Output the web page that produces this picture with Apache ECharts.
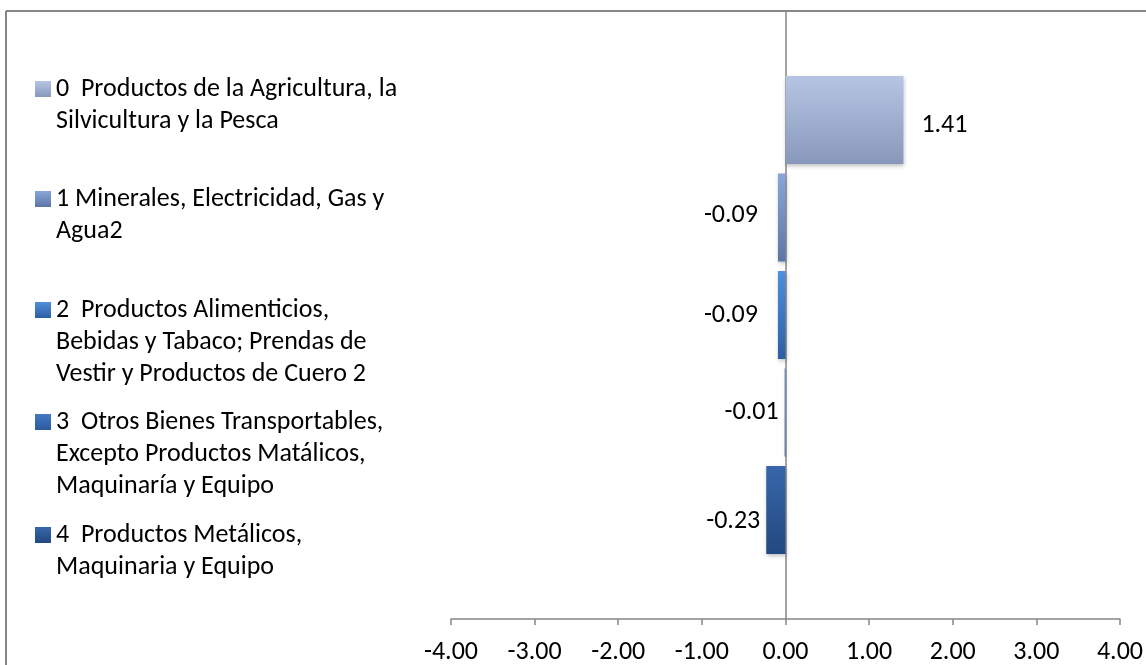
<!DOCTYPE html>
<html>
<head>
<meta charset="utf-8">
<script src="https://cdn.jsdelivr.net/npm/echarts@6/dist/echarts.min.js"></script>
<style>
  html, body { margin: 0; padding: 0; background: #fff; }
  #chart { width: 1146px; height: 665px; }
</style>
</head>
<body>
<div id="chart"></div>
<script>
// datos
const categories = [""];
const seriesNames = [
  "0  Productos de la Agricultura, la\nSilvicultura y la Pesca",
  "1 Minerales, Electricidad, Gas y\nAgua2",
  "2  Productos Alimenticios,\nBebidas y Tabaco; Prendas de\nVestir y Productos de Cuero 2",
  "3  Otros Bienes Transportables,\nExcepto Productos Matálicos,\nMaquinaría y Equipo",
  "4  Productos Metálicos,\nMaquinaria y Equipo"
];
const values = [1.41, -0.09, -0.09, -0.01, -0.23];
const xTicks = [-4, -3, -2, -1, 0, 1, 2, 3, 4];

// estilos
const gradients = [
  ["#b6c5e3", "#8898bb"],
  ["#8aa6d8", "#5b76a6"],
  ["#4f8fdc", "#2c5fa3"],
  ["#4479c4", "#2c5a9b"],
  ["#3767aa", "#23497f"]
];
const labelGap = [18, 20, 20, 6, 6];
const labelShift = [[0, 6], [0, -2], [0, 0], [0, 0], [0, 11]];
const legendCenters = [89, 199, 310, 422, 535];
const font = "Carlito, Lato, 'Open Sans', sans-serif";
const fs = 26;
const lh = 32;
const gray = "#868686";

const chart = echarts.init(document.getElementById("chart"));

const series = seriesNames.map((name, i) => ({
  name: name,
  type: "bar",
  barCategoryGap: "21.4%",
  barGap: "11%",
  itemStyle: {
    color: new echarts.graphic.LinearGradient(0, 0, 0, 1, [
      { offset: 0, color: gradients[i][0] },
      { offset: 1, color: gradients[i][1] }
    ]),
    shadowBlur: 4,
    shadowOffsetX: 1,
    shadowOffsetY: 2,
    shadowColor: "rgba(0,0,0,0.25)"
  },
  label: {
    show: true,
    position: values[i] >= 0 ? "right" : "left",
    distance: labelGap[i],
    offset: labelShift[i],
    color: "#000",
    fontFamily: font,
    fontSize: fs,
    formatter: (p) => p.value.toFixed(2)
  },
  data: [values[i]]
}));

// una leyenda por serie, para repartirlas como en Excel
// (líneas vacías delante para que el cuadro quede a la altura de la primera línea)
const legends = seriesNames.map((name, i) => {
  const n = name.split("\n").length;
  return {
    left: 35,
    top: legendCenters[i] - ((2 * n - 1) * lh) / 2,
    padding: 0,
    orient: "vertical",
    icon: "rect",
    itemWidth: 16,
    itemHeight: 16,
    selectedMode: false,
    data: [name],
    formatter: (s) => " \n".repeat(n - 1) + s,
    textStyle: {
      color: "#000",
      fontFamily: font,
      fontSize: fs,
      lineHeight: lh
    }
  };
});

const option = {
  animation: false,
  backgroundColor: "#fff",
  grid: { left: 451, right: 26, top: 11, bottom: 46 },
  legend: legends,
  xAxis: {
    type: "value",
    min: xTicks[0],
    max: xTicks[xTicks.length - 1],
    interval: 1,
    axisLine: { show: true, onZero: false, lineStyle: { color: gray, width: 1.5 } },
    axisTick: { show: true, length: 6, lineStyle: { color: gray, width: 1.5 } },
    splitLine: { show: false },
    axisLabel: {
      color: "#000",
      fontFamily: font,
      fontSize: fs,
      margin: 20,
      formatter: (v) => v.toFixed(2)
    }
  },
  yAxis: {
    type: "category",
    data: categories,
    axisLine: { show: true, onZero: true, lineStyle: { color: gray, width: 1.5 } },
    axisTick: { show: false },
    axisLabel: { show: false }
  },
  graphic: [
    { type: "line", shape: { x1: 6, y1: 11, x2: 1146, y2: 11 }, style: { stroke: gray, lineWidth: 2 } },
    { type: "line", shape: { x1: 6, y1: 11, x2: 6, y2: 665 }, style: { stroke: gray, lineWidth: 2 } }
  ],
  series: series
};

chart.setOption(option);
</script>
</body>
</html>
